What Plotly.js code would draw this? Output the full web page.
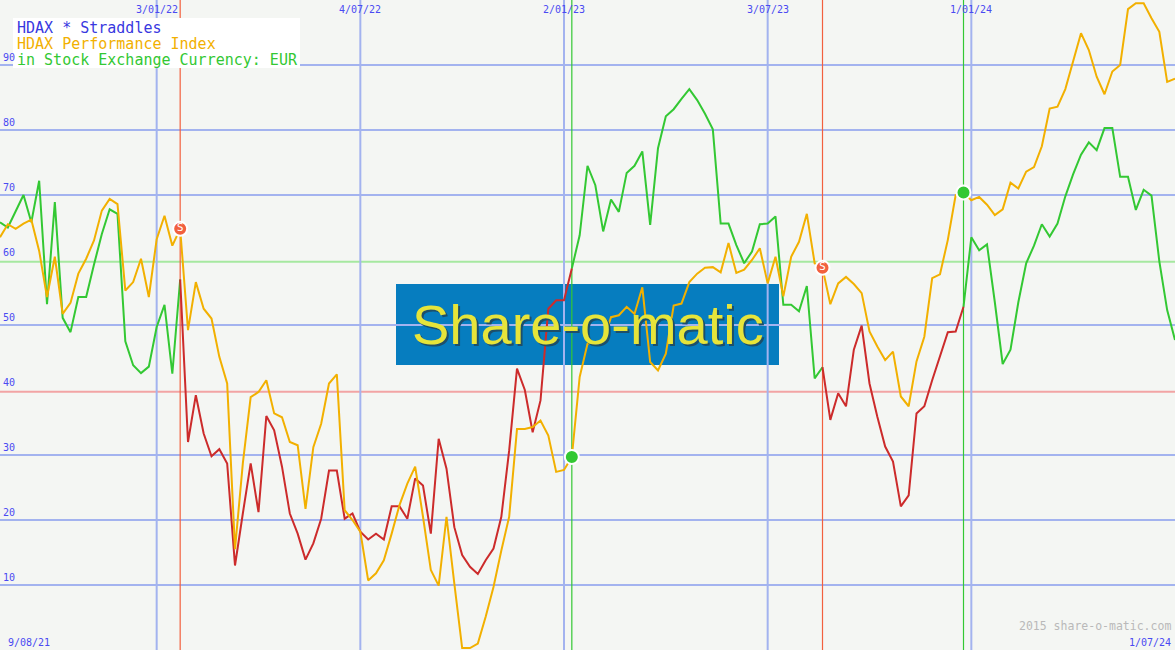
<!DOCTYPE html>
<html>
<head>
<meta charset="utf-8">
<script src="https://cdn.plot.ly/plotly-3.0.1.min.js"></script>
<style>
  html, body { margin: 0; padding: 0; background: #f4f6f3; }
  #chart { width: 1175px; height: 650px; }
</style>
</head>
<body>
<div id="chart"></div>
<script>
// ---------- DATA (weekly, first week = 2021-08-16) ----------
const startDate = '2021-08-16';

// HDAX Performance Index (orange line)
const indexValues = [
  63.5, 65.5, 64.8, 65.6, 66.2, 61.4, 54.3, 60.5, 51.7, 53.4,
  57.9, 60.2, 63.0, 67.6, 69.4, 68.6, 55.3, 56.6, 60.2, 54.3,
  63.2, 66.8, 62.2, 64.8, 49.2, 56.6, 52.5, 51.0, 45.1, 41.0,
  15.5, 28.7, 38.9, 39.7, 41.5, 36.4, 35.8, 32.0, 31.5, 21.7,
  31.2, 34.8, 41.0, 42.4, 21.5, 20.0, 18.2, 10.7, 11.8, 13.8,
  17.9, 22.3, 25.6, 28.2, 20.5, 12.3, 9.9, 20.5, 10.2, 0.3,
  0.3, 1.0, 5.1, 9.7, 15.3, 20.5, 34.0, 34.0, 34.3, 35.3,
  33.0, 27.4, 27.7, 29.7, 42.0, 47.1, 47.4, 47.4, 51.2, 51.5,
  52.8, 51.7, 55.8, 44.3, 43.0, 45.6, 53.0, 53.3, 56.6, 57.9,
  58.8, 58.9, 58.1, 62.6, 58.0, 58.5, 60.0, 61.8, 56.4, 60.5,
  54.4, 60.5, 62.8, 67.1, 59.5, 58.8, 53.2, 56.4, 57.4, 56.3,
  54.9, 49.0, 46.7, 44.6, 45.9, 39.0, 37.5, 44.4, 48.2, 57.2,
  57.8, 63.1, 70.0, 70.4, 69.2, 69.7, 68.5, 66.9, 67.8, 71.9,
  71.0, 73.6, 74.3, 77.5, 83.3, 83.6, 86.3, 90.8, 94.9, 92.3,
  88.2, 85.5, 89.0, 90.0, 98.6, 99.5, 99.5, 97.2, 95.1, 87.4,
  87.9
];

// Straddles indicator (green in buy phases, red in sell phases)
const straddleValues = [
  65.8, 65.0, 67.5, 70.0, 65.8, 72.2, 53.2, 68.9, 51.1, 48.9,
  54.3, 54.3, 59.3, 64.0, 67.8, 67.1, 47.5, 43.8, 42.6, 43.6,
  49.7, 53.1, 42.5, 57.0, 32.0, 39.2, 33.3, 29.8, 30.9, 28.7,
  13.0, 21.0, 28.7, 21.2, 36.0, 33.8, 28.2, 21.0, 17.9, 13.9,
  16.4, 20.2, 27.6, 27.6, 20.2, 21.0, 18.2, 17.0, 17.9, 17.0,
  22.1, 22.1, 20.2, 26.4, 25.3, 17.9, 32.5, 27.9, 18.9, 14.6,
  12.8, 11.7, 13.8, 15.6, 20.5, 30.7, 43.3, 40.0, 33.5, 38.4,
  52.5, 53.8, 53.8, 58.7, 63.8, 74.5, 71.5, 64.4, 69.3, 67.4,
  73.4, 74.5, 76.7, 65.4, 77.2, 82.1, 83.2, 84.8, 86.3, 84.6,
  82.5, 80.1, 65.6, 65.6, 62.3, 59.5, 61.3, 65.5, 65.6, 66.7,
  53.1, 53.1, 52.1, 56.0, 41.8, 43.5, 35.4, 39.5, 37.5, 46.2,
  49.9, 41.0, 35.9, 31.3, 29.0, 22.1, 23.8, 36.4, 37.5, 41.5,
  45.1, 48.9, 49.0, 52.8, 63.5, 61.5, 62.4, 53.5, 44.0, 46.2,
  53.5, 59.5, 62.2, 65.5, 63.6, 65.6, 69.8, 73.2, 76.2, 78.1,
  76.9, 80.3, 80.3, 72.8, 72.8, 67.7, 70.8, 69.9, 59.8, 52.3,
  47.7
];

// Signals: week index and type
const signalWeeks = [23, 73, 105, 123];
const signalTypes = ['sell', 'buy', 'sell', 'buy'];

// Axis ticks
const dateTickVals = ['2022-01-03', '2022-07-04', '2023-01-02', '2023-07-03', '2024-01-01'];
const dateTickLabels = ['3/01/22', '4/07/22', '2/01/23', '3/07/23', '1/01/24'];
const yTickVals = [10, 20, 30, 40, 50, 60, 70, 80, 90];
const firstDateLabel = '9/08/21';
const lastDateLabel = '1/07/24';
const titleLines = ['HDAX * Straddles', 'HDAX Performance Index', 'in Stock Exchange Currency: EUR'];

// ---------- BUILD ----------
function weekDate(k) {
  const p = startDate.split('-').map(Number);
  const d = new Date(Date.UTC(p[0], p[1] - 1, p[2]));
  d.setUTCDate(d.getUTCDate() + 7 * k);
  return d.toISOString().slice(0, 10);
}
const dates = indexValues.map((_, k) => weekDate(k));

const greenY = [], redY = [];
let state = 'buy', si = 0;
for (let k = 0; k < straddleValues.length; k++) {
  const v = straddleValues[k];
  if (si < signalWeeks.length && k === signalWeeks[si]) {
    greenY.push(v); redY.push(v);
    state = signalTypes[si]; si++;
  } else {
    greenY.push(state === 'buy' ? v : null);
    redY.push(state === 'sell' ? v : null);
  }
}

const C = {
  bg: '#f4f6f3', grid: '#a3b3ef', lbl: '#4a4af2',
  orange: '#f2b000', green: '#33c833', red: '#cc2b2b',
  sigRed: '#f2603e', sigGreen: '#33c833',
  hRed: '#f2a4a4', hGreen: '#a6e8a0'
};
const MONO = 'DejaVu Sans Mono, monospace';

const sellIdx = signalWeeks.filter((_, i) => signalTypes[i] === 'sell');
const buyIdx = signalWeeks.filter((_, i) => signalTypes[i] === 'buy');

const traces = [
  { x: dates, y: greenY, mode: 'lines', line: { color: C.green, width: 2 }, connectgaps: false, hoverinfo: 'skip' },
  { x: dates, y: redY, mode: 'lines', line: { color: C.red, width: 2 }, connectgaps: false, hoverinfo: 'skip' },
  { x: dates, y: indexValues, mode: 'lines', line: { color: C.orange, width: 2 }, hoverinfo: 'skip' },
  { x: sellIdx.map(k => dates[k]), y: sellIdx.map(k => indexValues[k]), mode: 'markers+text',
    text: sellIdx.map(() => 'S'), textposition: 'middle center',
    textfont: { color: '#ffffff', size: 10, family: 'DejaVu Sans' },
    marker: { size: 14, color: C.sigRed, line: { color: '#ffffff', width: 2 } }, hoverinfo: 'skip' },
  { x: buyIdx.map(k => dates[k]), y: buyIdx.map(k => indexValues[k]), mode: 'markers',
    marker: { size: 14, color: C.sigGreen, line: { color: '#ffffff', width: 2 } }, hoverinfo: 'skip' }
];

const shapes = [];
// logo block
shapes.push({ type: 'rect', xref: 'paper', yref: 'paper', layer: 'below',
  x0: 396 / 1175, x1: 779 / 1175, y0: 1 - 365 / 650, y1: 1 - 284 / 650,
  fillcolor: '#067dbf', line: { width: 0 } });
// horizontal gridlines
yTickVals.forEach(v => {
  if (v === 40 || v === 60) return;
  shapes.push({ type: 'line', xref: 'paper', yref: 'y', layer: 'below', x0: 0, x1: 1, y0: v, y1: v,
    line: { color: C.grid, width: 2 } });
});
shapes.push({ type: 'line', xref: 'paper', yref: 'y', layer: 'below', x0: 0, x1: 1, y0: 39.75, y1: 39.75,
  line: { color: C.hRed, width: 2 } });
shapes.push({ type: 'line', xref: 'paper', yref: 'y', layer: 'below', x0: 0, x1: 1, y0: 59.75, y1: 59.75,
  line: { color: C.hGreen, width: 2 } });
// vertical gridlines
dateTickVals.forEach(d => {
  shapes.push({ type: 'line', xref: 'x', yref: 'paper', layer: 'below', x0: d, x1: d, y0: 0, y1: 1,
    line: { color: C.grid, width: 2 } });
});
// signal lines
signalWeeks.forEach((k, i) => {
  shapes.push({ type: 'line', xref: 'x', yref: 'paper', layer: 'below', x0: dates[k], x1: dates[k], y0: 0, y1: 1,
    line: { color: signalTypes[i] === 'sell' ? C.sigRed : C.sigGreen, width: 1.2 } });
});
// title box
shapes.push({ type: 'rect', xref: 'paper', yref: 'paper', layer: 'above',
  x0: 13 / 1175, x1: 300 / 1175, y0: 1 - 68 / 650, y1: 1 - 18 / 650,
  fillcolor: '#ffffff', line: { width: 0 } });

const annotations = [];
// y labels
yTickVals.forEach(v => {
  annotations.push({ xref: 'paper', yref: 'y', x: 0, y: v, xanchor: 'left', yanchor: 'bottom',
    xshift: 1, yshift: 0, text: String(v), showarrow: false,
    font: { family: MONO, size: 10, color: C.lbl } });
});
// top date labels
dateTickVals.forEach((d, i) => {
  annotations.push({ xref: 'x', yref: 'paper', x: d, y: 1, xanchor: 'center', yanchor: 'top',
    yshift: -2, text: dateTickLabels[i], showarrow: false,
    font: { family: MONO, size: 10, color: C.lbl } });
});
annotations.push({ xref: 'paper', yref: 'paper', x: 0, y: 0, xanchor: 'left', yanchor: 'bottom',
  xshift: 6, yshift: 0, text: firstDateLabel, showarrow: false, font: { family: MONO, size: 10, color: C.lbl } });
annotations.push({ xref: 'paper', yref: 'paper', x: 1, y: 0, xanchor: 'right', yanchor: 'bottom',
  xshift: -2, yshift: 0, text: lastDateLabel, showarrow: false, font: { family: MONO, size: 10, color: C.lbl } });
annotations.push({ xref: 'paper', yref: 'paper', x: 1, y: 0, xanchor: 'right', yanchor: 'bottom',
  xshift: -2, yshift: 15, text: '2015 share-o-matic.com', showarrow: false,
  font: { family: MONO, size: 11.5, color: '#b9b9b9' } });
// title lines
const titleColors = ['#3838e0', '#f2b000', '#33c833'];
titleLines.forEach((t, i) => {
  annotations.push({ xref: 'paper', yref: 'paper', x: 15 / 1175, y: 1 - (28 + 16 * i) / 650,
    xanchor: 'left', yanchor: 'middle', text: t, showarrow: false,
    font: { family: MONO, size: 15, color: titleColors[i] } });
});
// logo text (shadow + face)
annotations.push({ xref: 'paper', yref: 'paper', x: 587.5 / 1175, y: 1 - 324 / 650,
  xanchor: 'center', yanchor: 'middle', xshift: 2, yshift: -2, text: 'Share-o-matic', showarrow: false,
  font: { family: 'Liberation Sans, Arial, sans-serif', size: 56, color: '#1d4f6a' } });
annotations.push({ xref: 'paper', yref: 'paper', x: 587.5 / 1175, y: 1 - 324 / 650,
  xanchor: 'center', yanchor: 'middle', text: 'Share-o-matic', showarrow: false,
  font: { family: 'Liberation Sans, Arial, sans-serif', size: 56, color: '#e6e43a' } });

const layout = {
  width: 1175, height: 650,
  margin: { l: 0, r: 0, t: 0, b: 0, pad: 0 },
  paper_bgcolor: C.bg, plot_bgcolor: C.bg,
  showlegend: false,
  xaxis: { type: 'date', range: [dates[0], dates[dates.length - 1]], showgrid: false, zeroline: false,
    showticklabels: false, ticks: '', showline: false, fixedrange: true },
  yaxis: { range: [0, 100], showgrid: false, zeroline: false, showticklabels: false, ticks: '',
    showline: false, fixedrange: true },
  shapes: shapes,
  annotations: annotations,
  font: { family: MONO }
};

Plotly.newPlot('chart', traces, layout, { displayModeBar: false, staticPlot: true });
</script>
</body>
</html>
